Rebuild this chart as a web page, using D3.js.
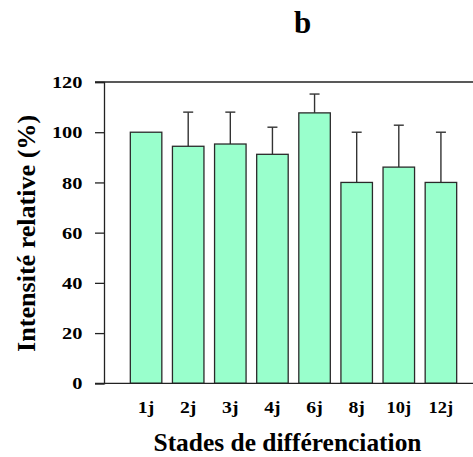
<!DOCTYPE html>
<html>
<head>
<meta charset="utf-8">
<script src="https://cdn.jsdelivr.net/npm/d3@7"></script>
<style>
  body { margin: 0; background: #fff; }
  text { font-family: "Liberation Serif", serif; font-weight: bold; fill: #000; }
</style>
</head>
<body>
<div id="container"></div>
<script>
const stages = ['1j', '2j', '3j', '4j', '6j', '8j', '10j', '12j']
const means = [100, 94.4, 95.3, 91.2, 107.7, 80, 86.1, 80]
const errUp = [0, 13.6, 12.7, 10.8, 7.5, 20, 16.7, 20]
const yTicks = [0, 20, 40, 60, 80, 100, 120]

const w = 473
const h = 457
const plotLeft = 104
const plotRight = 483
const plotTop = 82
const plotBottom = 383.3

const svg = d3.select('#container')
    .append('svg')
    .attr('width', w)
    .attr('height', h)

const scaleX = d3.scaleBand(stages, [plotLeft, plotRight])
    .paddingInner(0.252)
    .paddingOuter(0.625)

const scaleY = d3.scaleLinear([0, 120], [plotBottom, plotTop])

// frame line on top
svg.append('line')
    .attr('x1', plotLeft - 9).attr('x2', plotRight)
    .attr('y1', plotTop).attr('y2', plotTop)
    .attr('stroke', '#222').attr('stroke-width', 1.3)

const axisY = d3.axisLeft(scaleY)
    .tickValues(yTicks)
    .tickSize(9)
    .tickPadding(12.5)

const gy = svg.append('g')
    .attr('transform', `translate(${plotLeft},0)`)
    .call(axisY)
gy.attr('font-family', null).attr('font-size', null)
gy.select('.domain').attr('stroke', '#222').attr('stroke-width', 1.3)
gy.selectAll('.tick line').attr('stroke', '#222').attr('stroke-width', 1.3)
// source digits are wider than plain Times: ~10.2px each
gy.selectAll('.tick text')
    .attr('font-size', 17.5)
    .attr('fill', '#000')
    .attr('textLength', d => String(d).length * 10.2)
    .attr('lengthAdjust', 'spacingAndGlyphs')

// error bars (upper only)
const err = svg.append('g')
stages.forEach((s, i) => {
    if (!errUp[i]) return
    const cx = scaleX(s) + scaleX.bandwidth() / 2
    err.append('line')
        .attr('x1', cx).attr('x2', cx)
        .attr('y1', scaleY(means[i])).attr('y2', scaleY(means[i] + errUp[i]))
        .attr('stroke', '#333').attr('stroke-width', 1.4)
    err.append('line')
        .attr('x1', cx - 5).attr('x2', cx + 5)
        .attr('y1', scaleY(means[i] + errUp[i])).attr('y2', scaleY(means[i] + errUp[i]))
        .attr('stroke', '#333').attr('stroke-width', 1.4)
})

svg.selectAll('rect.bar')
    .data(stages)
    .enter()
    .append('rect')
    .attr('class', 'bar')
    .attr('x', d => scaleX(d))
    .attr('width', scaleX.bandwidth())
    .attr('y', (d, i) => scaleY(means[i]))
    .attr('height', (d, i) => scaleY(0) - scaleY(means[i]))
    .attr('fill', '#99ffcc')
    .attr('stroke', '#2a2a2a')
    .attr('stroke-width', 1.3)

// bottom axis line
svg.append('line')
    .attr('x1', plotLeft - 9).attr('x2', plotRight)
    .attr('y1', plotBottom).attr('y2', plotBottom)
    .attr('stroke', '#222').attr('stroke-width', 1.3)

svg.selectAll('text.xlab')
    .data(stages)
    .enter()
    .append('text')
    .attr('class', 'xlab')
    .attr('x', d => scaleX(d) + scaleX.bandwidth() / 2)
    .attr('y', 412.5)
    .attr('text-anchor', 'middle')
    .attr('font-size', 17.5)
    .attr('textLength', d => d.length * 8.2)
    .attr('lengthAdjust', 'spacingAndGlyphs')
    .text(d => d)

svg.append('text')
    .attr('x', 287.5)
    .attr('y', 451)
    .attr('text-anchor', 'middle')
    .attr('font-size', 25.5)
    .attr('textLength', 268)
    .attr('lengthAdjust', 'spacingAndGlyphs')
    .text('Stades de différenciation')

svg.append('text')
    .attr('transform', `translate(35,233.4) rotate(-90)`)
    .attr('text-anchor', 'middle')
    .attr('font-size', 25)
    .attr('textLength', 237)
    .attr('lengthAdjust', 'spacingAndGlyphs')
    .text('Intensité relative (%)')

svg.append('text')
    .attr('x', 302.7)
    .attr('y', 33.3)
    .attr('text-anchor', 'middle')
    .attr('font-size', 31)
    .text('b')
</script>
</body>
</html>
